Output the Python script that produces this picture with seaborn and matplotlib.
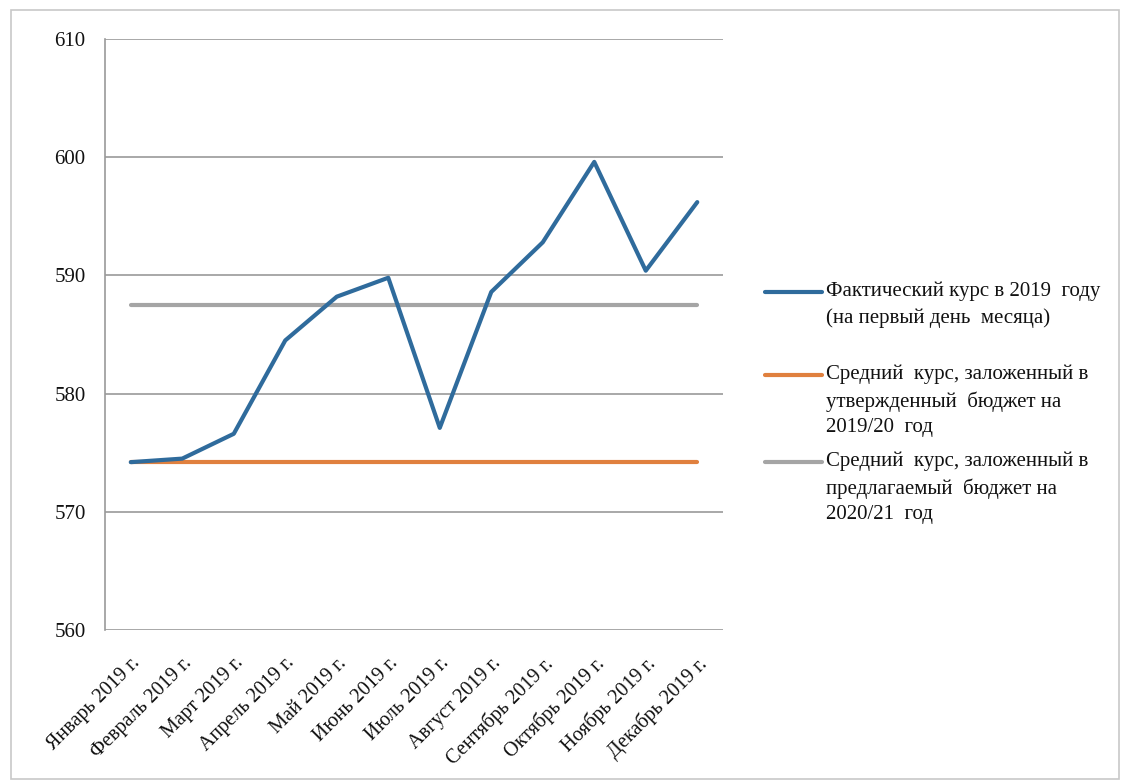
import numpy as np
import pandas as pd
import matplotlib
matplotlib.use("Agg")
import matplotlib.pyplot as plt
import matplotlib.transforms as mtransforms
from matplotlib.lines import Line2D
from matplotlib.patches import Rectangle
import seaborn as sns

# ----------------------------------------------------------------------
# Data
# ----------------------------------------------------------------------
months = ["Январь 2019 г.", "Февраль 2019 г.", "Март 2019 г.", "Апрель 2019 г.",
          "Май 2019 г.", "Июнь 2019 г.", "Июль 2019 г.", "Август 2019 г.",
          "Сентябрь 2019 г.", "Октябрь 2019 г.", "Ноябрь 2019 г.", "Декабрь 2019 г."]
actual_rate = [574.2, 574.5, 576.6, 584.5, 588.2, 589.8,
               577.1, 588.6, 592.8, 599.6, 590.4, 596.2]
approved_rate = [574.2] * 12
proposed_rate = [587.5] * 12

labels = ["Фактический курс в 2019  году\n(на первый день  месяца)",
          "Средний  курс, заложенный в\nутвержденный  бюджет на\n2019/20  год",
          "Средний  курс, заложенный в\nпредлагаемый  бюджет на\n2020/21  год"]
colors = ["#2f6b9c", "#e0803e", "#a5a5a5"]
yticks = [560, 570, 580, 590, 600, 610]

# ----------------------------------------------------------------------
# Plot
# ----------------------------------------------------------------------
sns.set_style("white")
plt.rcParams["font.family"] = ["Liberation Serif", "DejaVu Serif"]
plt.rcParams["text.color"] = "#111111"
plt.rcParams["xtick.color"] = "#111111"
plt.rcParams["ytick.color"] = "#111111"

df = pd.DataFrame({
    "month": list(range(len(months))) * 3,
    "rate": actual_rate + approved_rate + proposed_rate,
    "series": [labels[0]] * 12 + [labels[1]] * 12 + [labels[2]] * 12,
})

fig = plt.figure(figsize=(11.22, 7.83), dpi=100)
ax = fig.add_axes([0.0936, 0.1954, 0.5508, 0.7548])

# draw order: gray, orange, then blue on top
for lab, col in [(labels[2], colors[2]), (labels[1], colors[1]), (labels[0], colors[0])]:
    sns.lineplot(data=df[df["series"] == lab], x="month", y="rate", color=col,
                 linewidth=3.0, ax=ax, legend=False, solid_capstyle="round")

FS = 15
ax.set_xlim(-0.5, 11.5)
ax.set_ylim(560, 610)
ax.set_yticks(yticks)
ax.set_xticks(range(len(months)))
ax.set_xticklabels(months, rotation=45, ha="right", rotation_mode="anchor", fontsize=14.5)
ax.set_yticklabels([str(t) for t in yticks], fontsize=FS)
offset = mtransforms.ScaledTranslation(4 / 100, 0, fig.dpi_scale_trans)
for t in ax.get_xticklabels():
    t.set_transform(t.get_transform() + offset)
ax.tick_params(axis="x", length=0, pad=17)
ax.tick_params(axis="y", length=0, pad=14)
ax.set_xlabel("")
ax.set_ylabel("")
ax.yaxis.grid(True, color="#9a9a9a", linewidth=1.2)
ax.set_axisbelow(True)
for s in ["top", "right", "bottom"]:
    ax.spines[s].set_visible(False)
ax.spines["left"].set_color("#9a9a9a")
ax.spines["left"].set_linewidth(1.2)

# legend on the right, placed the way the spreadsheet places it
W, H = 1122, 783
legend_y = [292, 375, 462]
for lab, col, yy in zip(labels, colors, legend_y):
    fy = 1 - yy / H
    fig.add_artist(Line2D([765 / W, 822 / W], [fy, fy], color=col, linewidth=3.0,
                          transform=fig.transFigure))
    fig.text(826 / W, 1 - (yy - 10) / H, lab, fontsize=FS, va="top", ha="left",
             linespacing=1.45)

# outer chart border
fig.add_artist(Rectangle((11 / W, 4 / H), 1108 / W, 769 / H, transform=fig.transFigure,
                         fill=False, edgecolor="#c8c8c8", linewidth=1.2))

fig.savefig("out.png", dpi=100)
